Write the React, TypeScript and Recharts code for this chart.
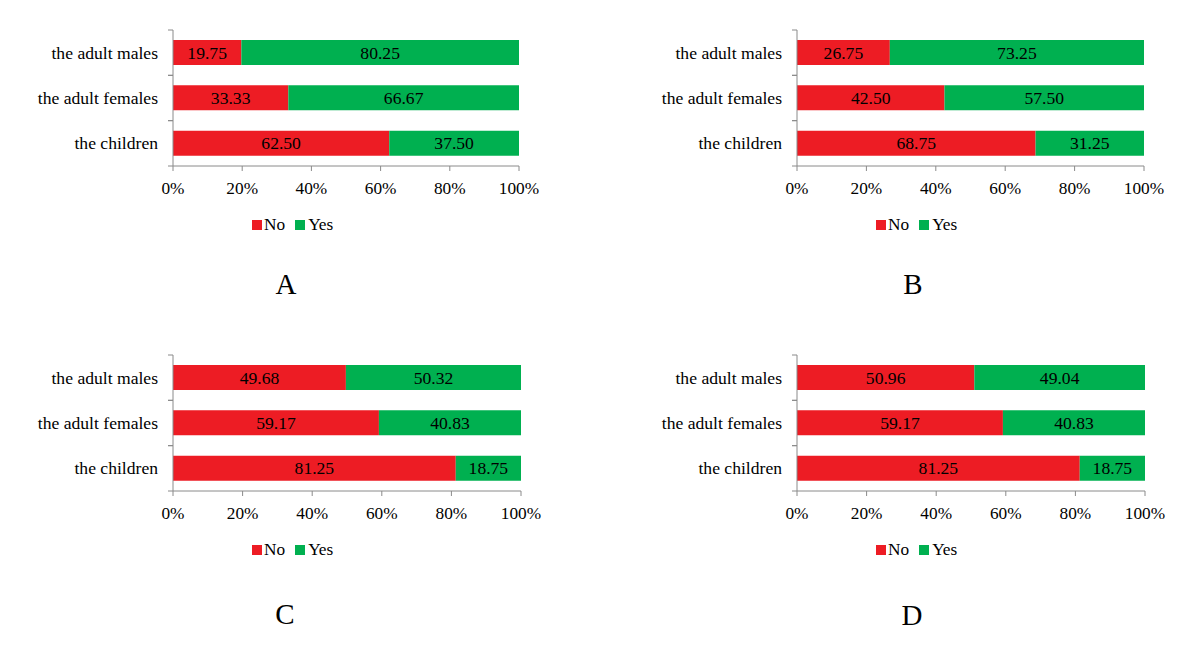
import React from 'react';
import { BarChart, Bar, XAxis, YAxis, LabelList } from 'recharts';

const categories = ['the adult males', 'the adult females', 'the children'];
const xTicks = [0, 20, 40, 60, 80, 100];

const noA = [19.75, 33.33, 62.5];
const yesA = [80.25, 66.67, 37.5];
const noB = [26.75, 42.5, 68.75];
const yesB = [73.25, 57.5, 31.25];
const noC = [49.68, 59.17, 81.25];
const yesC = [50.32, 40.83, 18.75];
const noD = [50.96, 59.17, 81.25];
const yesD = [49.04, 40.83, 18.75];

const RED = '#ED1C24';
const GREEN = '#00B050';
const AXIS = '#8a8a8a';
const FONT = '"Liberation Serif", "Times New Roman", serif';
const LABEL_GAP = 15;

const buildRows = (no: number[], yes: number[]) =>
  categories.map((name, i) => ({ name, no: no[i], yes: yes[i] }));

// category labels plus the short ticks at the band edges
const CategoryTick = (props: any) => {
  const { x, y, payload } = props;
  const half = payload?.offset ?? 22.7;
  const ax = x + LABEL_GAP;
  return (
    <g>
      <line x1={ax - 5} x2={ax} y1={y - half} y2={y - half} stroke={AXIS} />
      <line x1={ax - 5} x2={ax} y1={y + half} y2={y + half} stroke={AXIS} />
      <text x={x} y={y} dy="0.35em" textAnchor="end" fill="#000" fontSize={17.6} fontFamily={FONT}>
        {payload.value}
      </text>
    </g>
  );
};

interface PanelProps {
  no: number[];
  yes: number[];
  left: number;
  top: number;
  axisWidth: number;
  rightMargin: number;
  letter: string;
  letterX: number;
  letterY: number;
}

const Panel: React.FC<PanelProps> = ({ no, yes, left, top, axisWidth, rightMargin, letter, letterX, letterY }) => {
  const data = buildRows(no, yes);
  const axisX = left + axisWidth;
  const fmt = (v: any) => Number(v).toFixed(2);
  return (
    <>
      <div style={{ position: 'absolute', left, top }}>
        <BarChart
          width={600}
          height={200}
          layout="vertical"
          data={data}
          margin={{ top: 30, right: rightMargin, bottom: 0, left: 0 }}
        >
          <XAxis
            type="number"
            domain={[0, 100]}
            ticks={xTicks}
            interval={0}
            tickFormatter={(v) => `${v}%`}
            height={34}
            stroke={AXIS}
            tickSize={5}
            tickMargin={11}
            tick={{ fill: '#000', fontSize: 17.3, fontFamily: FONT }}
          />
          <YAxis
            type="category"
            dataKey="name"
            width={axisWidth}
            stroke={AXIS}
            tickLine={false}
            tickSize={0}
            tickMargin={LABEL_GAP}
            tick={<CategoryTick />}
          />
          <Bar dataKey="no" stackId="s" fill={RED} barSize={25} isAnimationActive={false}>
            <LabelList dataKey="no" position="center" formatter={fmt} fill="#000" fontSize={17.6} fontFamily={FONT} />
          </Bar>
          <Bar dataKey="yes" stackId="s" fill={GREEN} barSize={25} isAnimationActive={false}>
            <LabelList dataKey="yes" position="center" formatter={fmt} fill="#000" fontSize={17.6} fontFamily={FONT} />
          </Bar>
        </BarChart>
      </div>
      <div
        style={{
          position: 'absolute',
          left: axisX + 79,
          top: top + 166 + 59 - 10,
          height: 20,
          display: 'flex',
          alignItems: 'center',
          fontFamily: FONT,
          fontSize: 17.3,
          color: '#000',
        }}
      >
        <span style={{ width: 10, height: 10, background: RED, marginRight: 2 }} />
        <span style={{ marginRight: 10 }}>No</span>
        <span style={{ width: 10, height: 10, background: GREEN, marginRight: 3 }} />
        <span>Yes</span>
      </div>
      <div
        style={{
          position: 'absolute',
          left: letterX - 30,
          top: letterY - 20,
          width: 60,
          height: 40,
          lineHeight: '40px',
          textAlign: 'center',
          fontFamily: FONT,
          fontSize: 29,
          color: '#000',
        }}
      >
        {letter}
      </div>
    </>
  );
};

export default function App() {
  return (
    <div style={{ position: 'fixed', left: 0, top: 0, width: 1200, height: 653, background: '#fff' }}>
      <Panel no={noA} yes={yesA} left={0} top={0} axisWidth={173} rightMargin={81} letter="A" letterX={286} letterY={284} />
      <Panel no={noB} yes={yesB} left={600} top={0} axisWidth={197} rightMargin={56} letter="B" letterX={913} letterY={284} />
      <Panel no={noC} yes={yesC} left={0} top={325} axisWidth={173} rightMargin={79} letter="C" letterX={285} letterY={614} />
      <Panel no={noD} yes={yesD} left={600} top={325} axisWidth={197} rightMargin={55} letter="D" letterX={912} letterY={615} />
    </div>
  );
}
